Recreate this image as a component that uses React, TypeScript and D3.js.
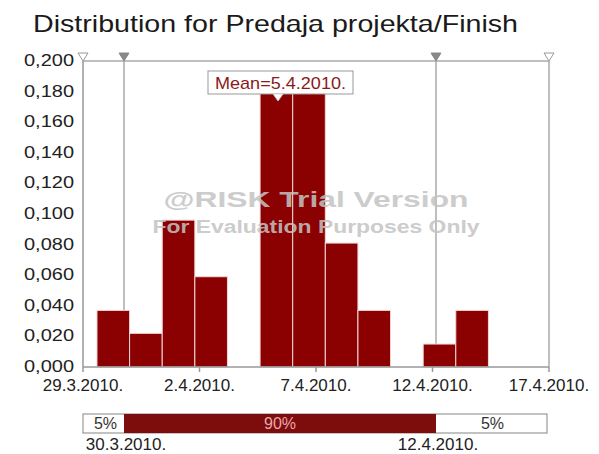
import React from "react";
import * as d3 from "d3";

const title = "Distribution for Predaja projekta/Finish";
const xTickValues = [0, 5, 10, 15, 20];
const xTickLabels = ["29.3.2010.", "2.4.2010.", "7.4.2010.", "12.4.2010.", "17.4.2010."];
const yTickValues = [0, 0.02, 0.04, 0.06, 0.08, 0.1, 0.12, 0.14, 0.16, 0.18, 0.2];
const binStart = 0.6;
const binWidth = 1.4;
const binProbs = [0.037, 0.022, 0.096, 0.059, 0, 0.185, 0.185, 0.081, 0.037, 0, 0.015, 0.037];
const meanValue = 8.37;
const meanLabel = "Mean=5.4.2010.";
const p5Value = 1.76;
const p95Value = 15.15;
const p5Label = "30.3.2010.";
const p95Label = "12.4.2010.";
const bandLabels = ["5%", "90%", "5%"];
const watermark1 = "@RISK Trial Version";
const watermark2 = "For Evaluation Purposes Only";

const W = 599;
const H = 454;
const BAR = "#8b0000";
const FONT = "Arial, 'Liberation Sans', sans-serif";

export default function App() {
  const x = d3.scaleLinear().domain([0, 20]).range([83, 549]);
  const y = d3.scaleLinear().domain([0, 0.2]).range([367, 61]);
  const fmtY = (v: number) => d3.format(".3f")(v).replace(".", ",");
  const tri = (cx: number, top: number) => `M${cx - 5},${top} L${cx + 5},${top} L${cx},${top + 8} Z`;
  const bandY = 414;
  const bandH = 19;

  return (
    <svg width={W} height={H} style={{ position: "absolute", left: 0, top: 0, background: "#fff" }} fontFamily={FONT}>
      <text x={33} y={32} fontSize={24} fill="#1a1a1a" textLength={485} lengthAdjust="spacingAndGlyphs">{title}</text>

      {/* frame */}
      <line x1={x(0)} x2={x(20)} y1={y(0.2)} y2={y(0.2)} stroke="#aaa" strokeWidth={1.5} />
      <line x1={x(20)} x2={x(20)} y1={y(0.2)} y2={y(0)} stroke="#aaa" strokeWidth={1.5} />
      <line x1={x(p5Value)} x2={x(p5Value)} y1={y(0.2)} y2={y(0)} stroke="#aaa" strokeWidth={1.5} />
      <line x1={x(p95Value)} x2={x(p95Value)} y1={y(0.2)} y2={y(0)} stroke="#aaa" strokeWidth={1.5} />

      {/* bars */}
      {binProbs.map((p, i) =>
        p > 0 ? (
          <rect key={i}
            x={x(binStart + i * binWidth)}
            y={y(p)}
            width={x(binStart + (i + 1) * binWidth) - x(binStart + i * binWidth)}
            height={y(0) - y(p)}
            fill={BAR} stroke="#f0d8d8" strokeWidth={1} />
        ) : null
      )}

      {/* axes */}
      <line x1={x(0)} x2={x(0)} y1={y(0.2)} y2={y(0)} stroke="#999" strokeWidth={1.5} />
      <line x1={x(0)} x2={x(20)} y1={y(0)} y2={y(0)} stroke="#999" strokeWidth={1.5} />
      {xTickValues.map((v, i) => (
        <g key={i}>
          <line x1={x(v)} x2={x(v)} y1={y(0)} y2={y(0) + 5} stroke="#999" strokeWidth={1.5} />
          <text x={x(v)} y={391} fontSize={17} textAnchor="middle" fill="#222">{xTickLabels[i]}</text>
        </g>
      ))}
      {yTickValues.map((v, i) => (
        <text key={i} x={74} y={y(v) + 5} fontSize={17} textAnchor="end" fill="#222"
          textLength={50} lengthAdjust="spacingAndGlyphs">{fmtY(v)}</text>
      ))}

      {/* top markers */}
      <path d={tri(x(0), 53)} fill="#fff" stroke="#999" strokeWidth={1} />
      <path d={tri(x(20), 53)} fill="#fff" stroke="#999" strokeWidth={1} />
      <path d={tri(x(p5Value), 53)} fill="#888" stroke="#888" strokeWidth={1} />
      <path d={tri(x(p95Value), 53)} fill="#888" stroke="#888" strokeWidth={1} />

      {/* watermark */}
      <text x={316} y={207} fontSize={22} fontWeight="bold" textAnchor="middle" fill="#c4c4c4" opacity={0.85}
        textLength={305} lengthAdjust="spacingAndGlyphs">{watermark1}</text>
      <text x={316} y={233} fontSize={18} fontWeight="bold" textAnchor="middle" fill="#c4c4c4" opacity={0.85}
        textLength={327} lengthAdjust="spacingAndGlyphs">{watermark2}</text>

      {/* mean label */}
      <rect x={208} y={71} width={145} height={23} fill="#fff" stroke="#999" strokeWidth={1} />
      <text x={280.5} y={89} fontSize={17} textAnchor="middle" fill="#8b1a1a" textLength={131} lengthAdjust="spacingAndGlyphs">{meanLabel}</text>
      <path d={`M${x(meanValue) - 5},94 L${x(meanValue) + 5},94 L${x(meanValue)},101 Z`} fill="#fff" stroke="#ccc" strokeWidth={0.8} />

      {/* percentile band */}
      <rect x={x(0)} y={bandY} width={x(20) - x(0) - 2} height={bandH} fill="#fff" stroke="#999" strokeWidth={1.2} />
      <rect x={x(p5Value)} y={bandY} width={x(p95Value) - x(p5Value)} height={bandH} fill="#7d0c0c" />
      <text x={(x(0) + x(p5Value)) / 2 + 2} y={bandY + 15} fontSize={16} textAnchor="middle" fill="#333">{bandLabels[0]}</text>
      <text x={(x(p5Value) + x(p95Value)) / 2} y={bandY + 15} fontSize={16} textAnchor="middle" fill="#e8a8a8">{bandLabels[1]}</text>
      <text x={(x(p95Value) + x(20)) / 2} y={bandY + 15} fontSize={16} textAnchor="middle" fill="#333">{bandLabels[2]}</text>
      <text x={x(p5Value) + 2} y={450} fontSize={17} textAnchor="middle" fill="#222">{p5Label}</text>
      <text x={x(p95Value) + 2} y={450} fontSize={17} textAnchor="middle" fill="#222">{p95Label}</text>
    </svg>
  );
}
